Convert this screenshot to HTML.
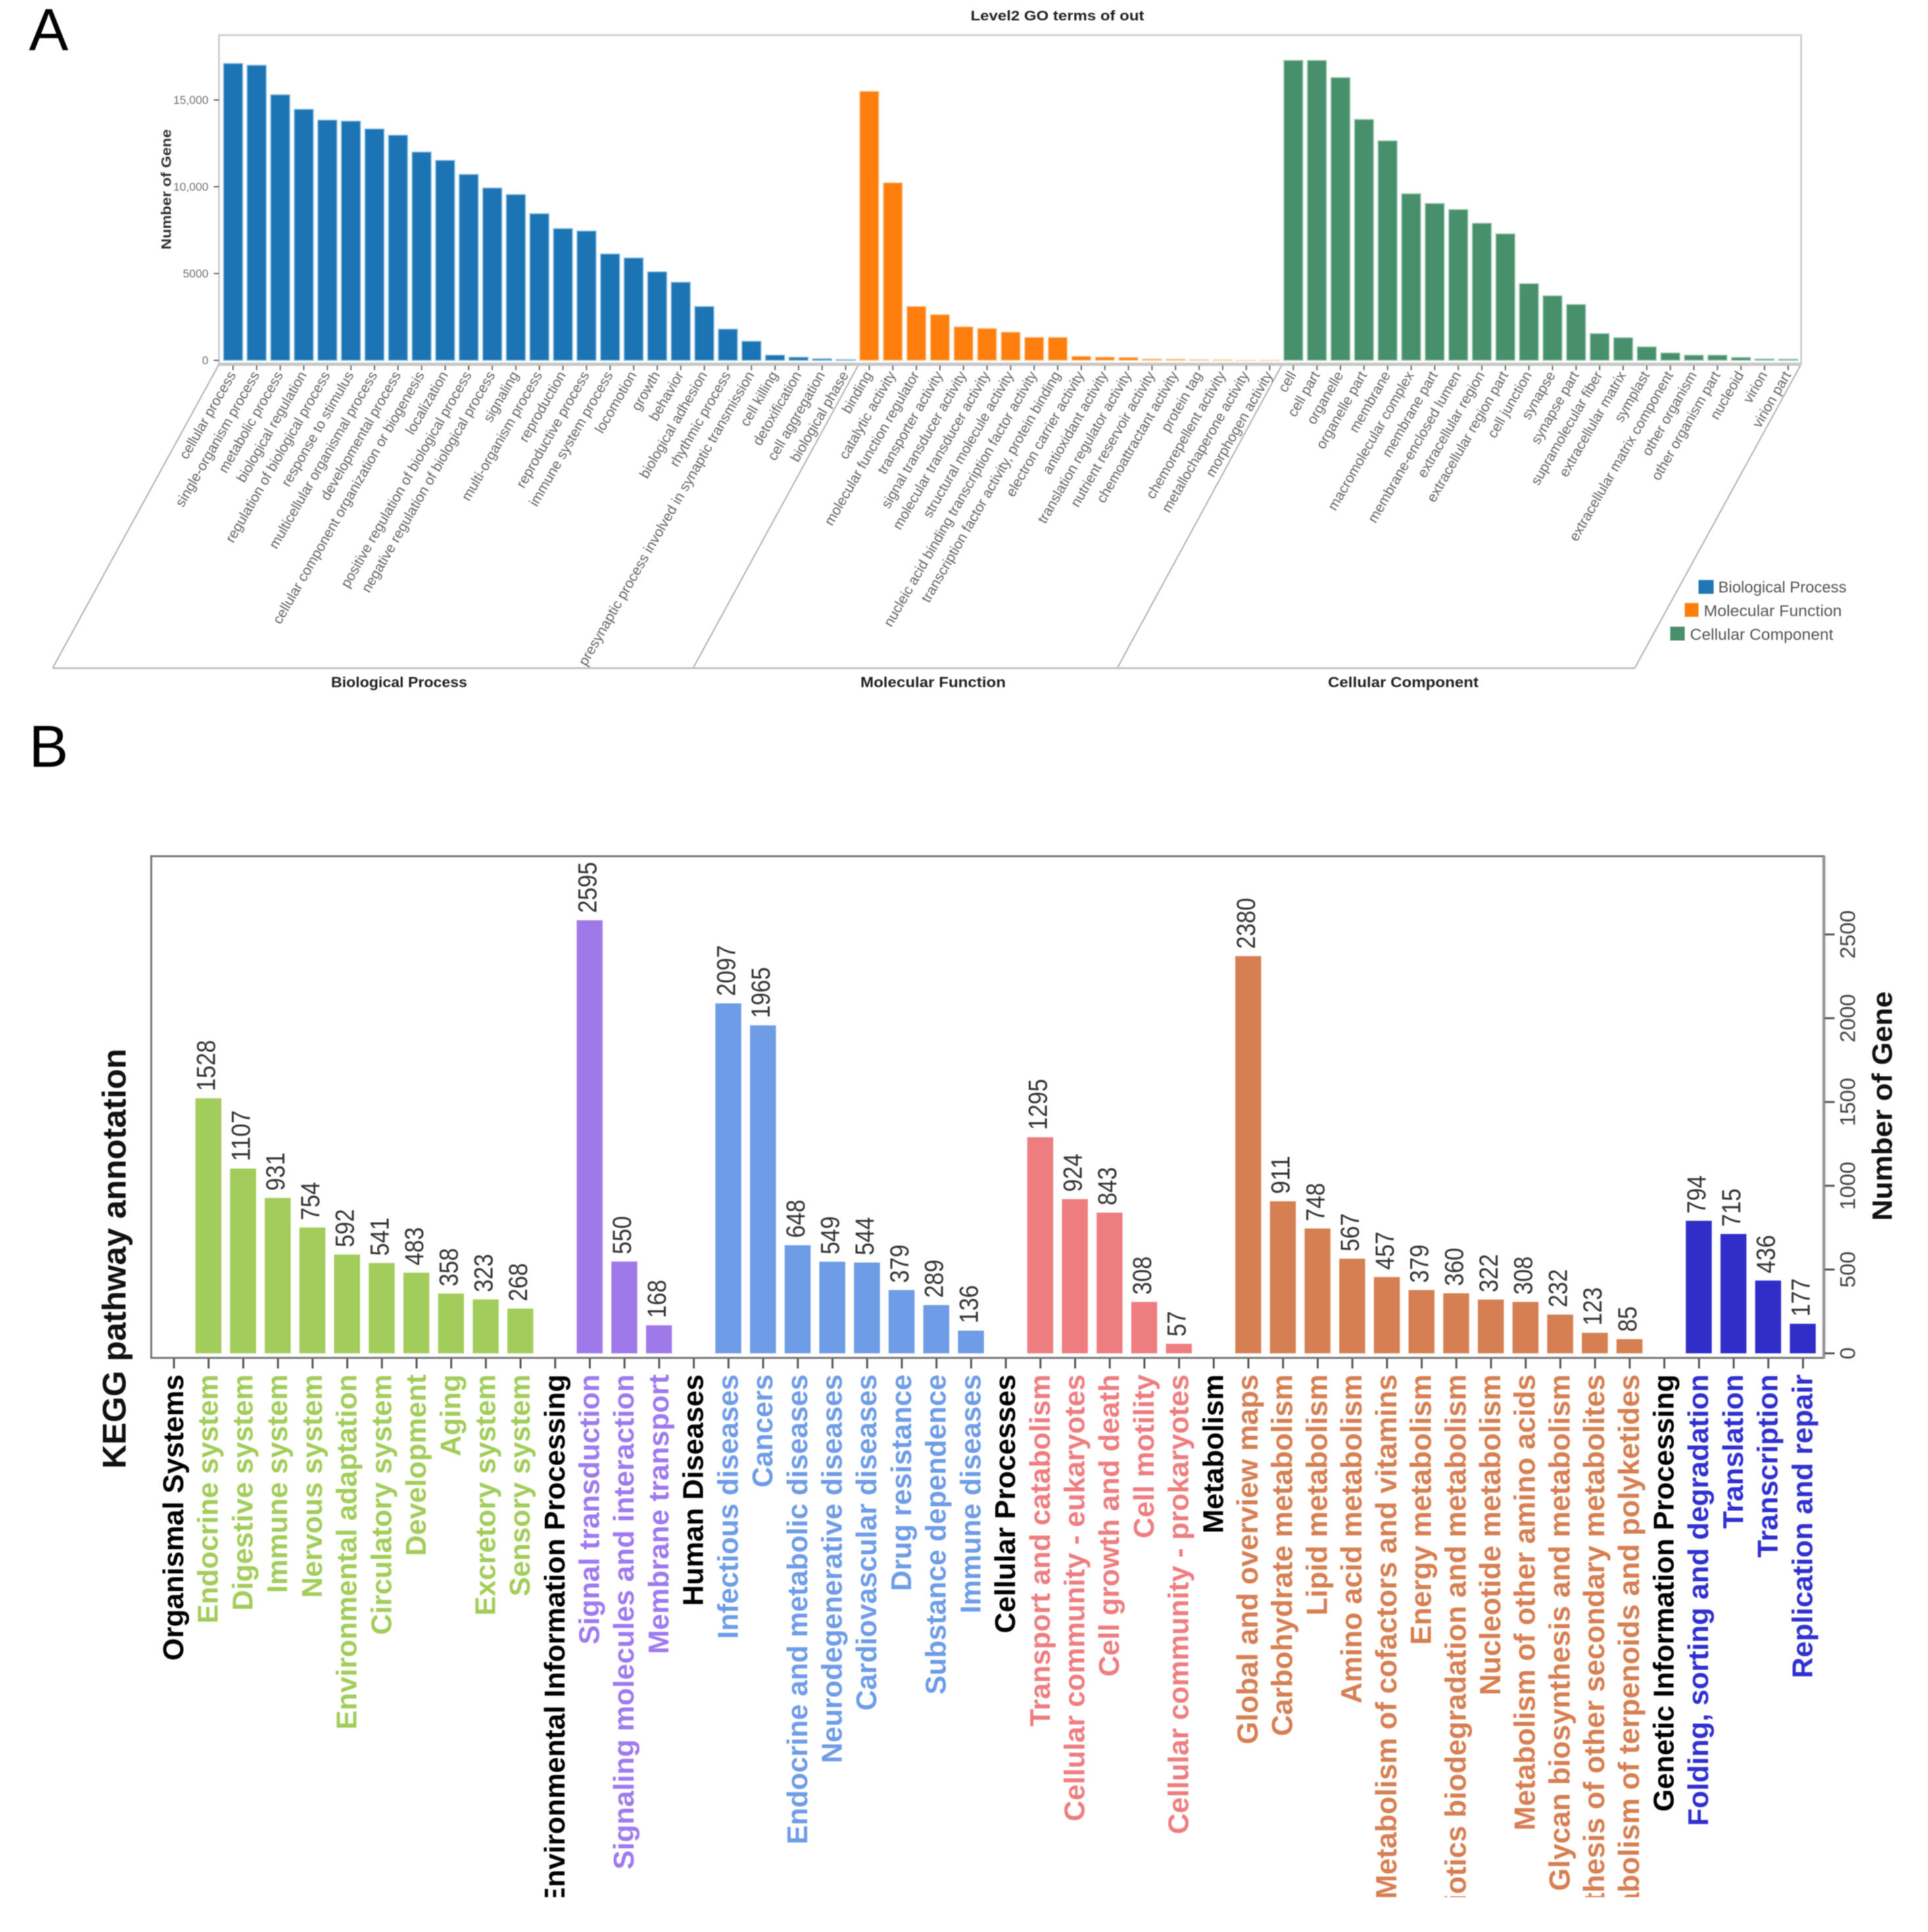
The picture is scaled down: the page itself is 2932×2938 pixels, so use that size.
<!DOCTYPE html>
<html lang="en">
<head>
<meta charset="utf-8">
<title>Level2 GO terms and KEGG pathway annotation</title>
<style>
html,body{margin:0;padding:0;background:#fff;}
svg{display:block;font-family:"Liberation Sans",sans-serif;filter:blur(0.7px);}
</style>
</head>
<body>
<svg id="figure" xmlns="http://www.w3.org/2000/svg" width="2932" height="2938" viewBox="0 0 2932 2938">
  <defs>
    <clipPath id="kegg-label-clip"><rect x="0" y="2070" width="2932" height="815"/></clipPath>
  </defs>
  <rect x="0" y="0" width="2932" height="2938" fill="#fff"/>
  <text x="44" y="76" font-size="90" fill="#000">A</text>
  <text x="44" y="1166" font-size="90" fill="#000">B</text>

  <g id="go-chart">
    <text x="1608" y="31" font-size="21" font-weight="bold" fill="#222" text-anchor="middle" textLength="264" lengthAdjust="spacingAndGlyphs">Level2 GO terms of out</text>
    <rect x="333" y="53.5" width="2406" height="500" fill="none" stroke="#c8c8c8" stroke-width="2.5"/>
    <text transform="rotate(-90 260 288)" x="260" y="288" font-size="21" font-weight="bold" fill="#333" text-anchor="middle" textLength="183" lengthAdjust="spacingAndGlyphs">Number of Gene</text>
    <g id="go-slants" stroke="#b0b0b0" stroke-width="2">
      <line x1="333" y1="554" x2="80" y2="1016"/>
      <line x1="1306" y1="554" x2="1054" y2="1016"/>
      <line x1="1950" y1="554" x2="1699" y2="1016"/>
      <line x1="2739" y1="554" x2="2486" y2="1016"/>
    </g>
    <line x1="80" y1="1016" x2="2486" y2="1016" stroke="#c4c4c4" stroke-width="3"/>
    <line x1="333" y1="554" x2="2739" y2="554" stroke="#c8c8c8" stroke-width="5"/>
    <text x="607" y="1045" font-size="22" font-weight="bold" fill="#222" text-anchor="middle" textLength="207" lengthAdjust="spacingAndGlyphs">Biological Process</text>
    <text x="1419" y="1045" font-size="22" font-weight="bold" fill="#222" text-anchor="middle" textLength="221" lengthAdjust="spacingAndGlyphs">Molecular Function</text>
    <text x="2134" y="1045" font-size="22" font-weight="bold" fill="#222" text-anchor="middle" textLength="229" lengthAdjust="spacingAndGlyphs">Cellular Component</text>
    <g id="go-marks"></g>
    <g>
      <rect x="2583" y="882" width="23" height="21" fill="#1f77b4"/>
      <text x="2613" y="901" font-size="24" fill="#555" textLength="195" lengthAdjust="spacingAndGlyphs">Biological Process</text>
      <rect x="2562" y="917" width="21" height="21" fill="#ff7f0e"/>
      <text x="2591" y="937" font-size="24" fill="#555" textLength="210" lengthAdjust="spacingAndGlyphs">Molecular Function</text>
      <rect x="2540" y="953" width="22" height="21" fill="#488f6c"/>
      <text x="2570" y="973" font-size="24" fill="#555" textLength="218" lengthAdjust="spacingAndGlyphs">Cellular Component</text>
    </g>
  </g>

  <g id="kegg-chart">
    <text transform="rotate(-90 191 1914)" x="191" y="1914" font-size="50" font-weight="bold" fill="#111" text-anchor="middle" textLength="639" lengthAdjust="spacingAndGlyphs">KEGG pathway annotation</text>
    <text transform="rotate(-90 2877 1682)" x="2877" y="1682" font-size="43" font-weight="bold" fill="#111" text-anchor="middle" textLength="349" lengthAdjust="spacingAndGlyphs">Number of Gene</text>
    <rect x="230" y="1302" width="2543" height="763" fill="none" stroke="#777" stroke-width="3"/>
    <line x1="2774" y1="1301" x2="2774" y2="2066" stroke="#999" stroke-width="4"/>
    <g id="kegg-marks"></g>
    <g id="kegg-labels" clip-path="url(#kegg-label-clip)"></g>
  </g>
</svg>

<script>
// ---- GO chart data ----
const bpTerms = ["cellular process","single-organism process","metabolic process","biological regulation","regulation of biological process","response to stimulus","multicellular organismal process","developmental process","cellular component organization or biogenesis","localization","positive regulation of biological process","negative regulation of biological process","signaling","multi-organism process","reproduction","reproductive process","immune system process","locomotion","growth","behavior","biological adhesion","rhythmic process","presynaptic process involved in synaptic transmission","cell killing","detoxification","cell aggregation","biological phase"];
const bpValues = [17100,17000,15300,14460,13840,13780,13330,12970,12000,11520,10710,9930,9550,8450,7590,7450,6130,5900,5100,4500,3100,1800,1100,300,180,90,40];
const mfTerms = ["binding","catalytic activity","molecular function regulator","transporter activity","signal transducer activity","molecular transducer activity","structural molecule activity","nucleic acid binding transcription factor activity","transcription factor activity, protein binding","electron carrier activity","antioxidant activity","translation regulator activity","nutrient reservoir activity","chemoattractant activity","protein tag","chemorepellent activity","metallochaperone activity","morphogen activity"];
const mfValues = [15500,10235,3110,2640,1940,1840,1630,1330,1330,240,190,170,80,70,40,30,5,5];
const ccTerms = ["cell","cell part","organelle","organelle part","membrane","macromolecular complex","membrane part","membrane-enclosed lumen","extracellular region","extracellular region part","cell junction","synapse","synapse part","supramolecular fiber","extracellular matrix","symplast","extracellular matrix component","other organism","other organism part","nucleoid","virion","virion part"];
const ccValues = [17280,17280,16290,13880,12650,9600,9040,8690,7900,7290,4420,3720,3220,1545,1310,780,430,300,300,170,80,70];
const goTickValues = [0,5000,10000,15000];
const goTickLabels = ["0","5000","10,000","15,000"];

// ---- KEGG chart data ----
const keggHeaders = ["Organismal Systems","Environmental Information Processing","Human Diseases","Cellular Processes","Metabolism","Genetic Information Processing"];
const organismalTerms = ["Endocrine system","Digestive system","Immune system","Nervous system","Environmental adaptation","Circulatory system","Development","Aging","Excretory system","Sensory system"];
const organismalValues = [1528,1107,931,754,592,541,483,358,323,268];
const environmentalTerms = ["Signal transduction","Signaling molecules and interaction","Membrane transport"];
const environmentalValues = [2595,550,168];
const diseaseTerms = ["Infectious diseases","Cancers","Endocrine and metabolic diseases","Neurodegenerative diseases","Cardiovascular diseases","Drug resistance","Substance dependence","Immune diseases"];
const diseaseValues = [2097,1965,648,549,544,379,289,136];
const cellularTerms = ["Transport and catabolism","Cellular community - eukaryotes","Cell growth and death","Cell motility","Cellular community - prokaryotes"];
const cellularValues = [1295,924,843,308,57];
const metabolismTerms = ["Global and overview maps","Carbohydrate metabolism","Lipid metabolism","Amino acid metabolism","Metabolism of cofactors and vitamins","Energy metabolism","Xenobiotics biodegradation and metabolism","Nucleotide metabolism","Metabolism of other amino acids","Glycan biosynthesis and metabolism","Biosynthesis of other secondary metabolites","Metabolism of terpenoids and polyketides"];
const metabolismValues = [2380,911,748,567,457,379,360,322,308,232,123,85];
const geneticTerms = ["Folding, sorting and degradation","Translation","Transcription","Replication and repair"];
const geneticValues = [794,715,436,177];
const keggTickValues = [0,500,1000,1500,2000,2500];

// ---- helpers and scales ----
const NS = "http://www.w3.org/2000/svg";
function make(tag, parent, props, text) {
  const el = document.createElementNS(NS, tag);
  for (const k in props) el.setAttribute(k, props[k]);
  if (text !== undefined) el.textContent = text;
  parent.appendChild(el);
  return el;
}
function slug(s) { return s.toLowerCase().replace(/[^a-z0-9]+/g, "-").replace(/^-|-$/g, ""); }

const goX = i => 354.5 + 35.83 * i;
const goY = v => 548 - 0.0264 * v;
const keggX = i => 264.5 + 52.71 * i;
const keggY = v => 2058 - 0.2538 * v;
const keggAxisY = v => 2058 - 0.2548 * v;

// ---- draw GO chart ----
const goMarks = document.getElementById("go-marks");
const goSeries = [
  {terms: bpTerms, values: bpValues, fill: "#1b75b5", edge: "#8fc0e2"},
  {terms: mfTerms, values: mfValues, fill: "#ff7f0e", edge: "#ffd0a6"},
  {terms: ccTerms, values: ccValues, fill: "#488f6c", edge: "#a9d0bb"}
];
goTickValues.forEach((v, i) => {
  const tick = make("line", goMarks, {x1: 325, x2: 333, y1: goY(v), y2: goY(v), stroke: "#666", "stroke-width": 2});
  
  
  const lab = make("text", goMarks, {x: 317, y: goY(v) + 6, "font-size": 17.5, fill: "#777", "text-anchor": "end"}, goTickLabels[i]);
  
  
});
let goIndex = 0;
goSeries.forEach(series => {
  series.terms.forEach((term, j) => {
    const x = goX(goIndex);
    const v = series.values[j];
    const bar = make("rect", goMarks, {x: x - 14.5, y: goY(v), width: 29, height: Math.max(548 - goY(v), 0), fill: series.fill, stroke: series.edge, "stroke-width": 1.5});
    
    
    const tick = make("line", goMarks, {x1: x, x2: x, y1: 556, y2: 563, stroke: "#666", "stroke-width": 2});
    
    
    const lx = x + 5, ly = 570;
    const lab = make("text", goMarks, {x: lx, y: ly, "font-size": 21.6, fill: "#666", "text-anchor": "end", transform: "rotate(-60 " + lx + " " + ly + ")"}, term);
    
    
    goIndex++;
  });
});

// ---- draw KEGG chart ----
const keggMarks = document.getElementById("kegg-marks");
const keggLabels = document.getElementById("kegg-labels");
const keggSeries = [
  {terms: organismalTerms, values: organismalValues, fill: "#a2cd5a", text: "#a2cd5a", size: 44},
  {terms: environmentalTerms, values: environmentalValues, fill: "#9f79e8", text: "#9f79ee", size: 44},
  {terms: diseaseTerms, values: diseaseValues, fill: "#6e9ce6", text: "#6e9ce6", size: 43.6},
  {terms: cellularTerms, values: cellularValues, fill: "#ee7d80", text: "#ee7d80", size: 44},
  {terms: metabolismTerms, values: metabolismValues, fill: "#d67f52", text: "#d67f52", size: 44.6},
  {terms: geneticTerms, values: geneticValues, fill: "#302dc8", text: "#3030d0", size: 44}
];
function keggLabel(i, textValue, color, size) {
  const lx = keggX(i) + 14, ly = 2090;
  const lab = make("text", keggLabels, {x: lx, y: ly, "font-size": size, "font-weight": "bold", fill: color, "text-anchor": "end", transform: "rotate(-90 " + lx + " " + ly + ")"}, textValue);
  
  
  const tick = make("line", keggMarks, {x1: keggX(i), x2: keggX(i), y1: 2066, y2: 2081, stroke: "#555", "stroke-width": 3});
  
  
}
let keggIndex = 0;
keggSeries.forEach((series, g) => {
  keggLabel(keggIndex, keggHeaders[g], "#000", 44);
  keggIndex++;
  series.terms.forEach((term, j) => {
    const v = series.values[j];
    const cx = keggX(keggIndex);
    const bar = make("rect", keggMarks, {x: cx - 20, y: keggY(v), width: 39.4, height: 2058 - keggY(v), fill: series.fill});
    
    
    const vx = cx + 10, vy = keggY(v) - 11;
    const str = String(v);
    const val = make("text", keggMarks, {x: vx, y: vy, "font-size": 40, fill: "#333", transform: "rotate(-90 " + vx + " " + vy + ")", textLength: str.length * 19.4, lengthAdjust: "spacingAndGlyphs"}, str);
    
    
    keggLabel(keggIndex, term, series.text, series.size);
    keggIndex++;
  });
});
keggTickValues.forEach(v => {
  const y = keggAxisY(v);
  const tick = make("line", keggMarks, {x1: 2775, x2: 2790, y1: y, y2: y, stroke: "#555", "stroke-width": 3});
  
  
  const str = String(v);
  const lab = make("text", keggMarks, {x: 2821, y: y, "font-size": 32, fill: "#444", "text-anchor": "middle", transform: "rotate(-90 2821 " + y + ")", textLength: str.length * 18.4, lengthAdjust: "spacingAndGlyphs"}, str);
  
  
});
</script>
</body>
</html>
